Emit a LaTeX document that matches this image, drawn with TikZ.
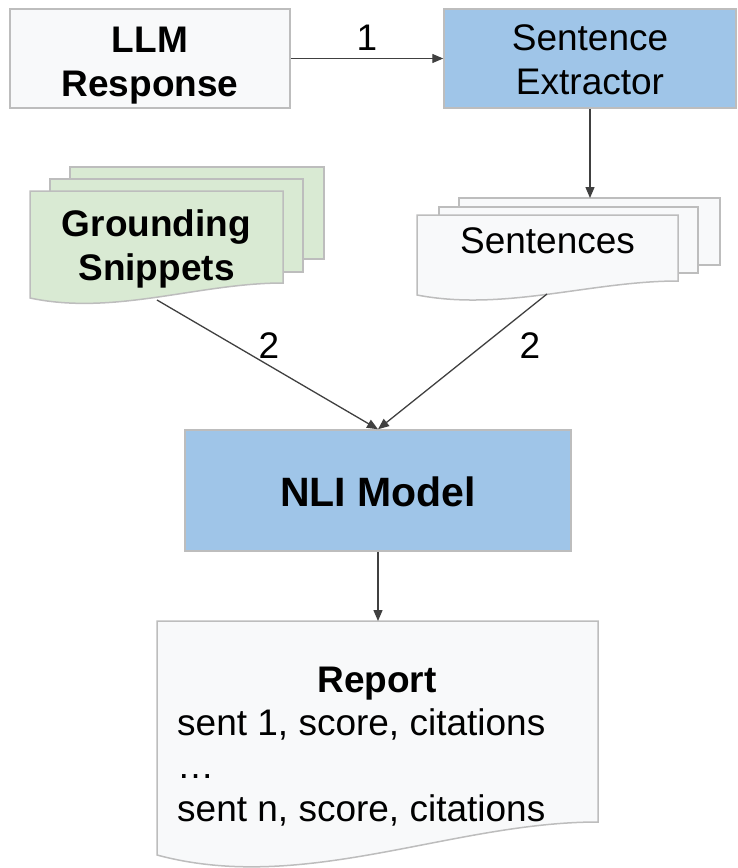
\documentclass[tikz,border=0pt]{standalone}
\usepackage{fontspec}
\setmainfont{Liberation Sans}
\usetikzlibrary{arrows.meta}
\definecolor{boxgray}{HTML}{F8F9FA}
\definecolor{edgegray}{HTML}{BDBDBD}
\definecolor{blueboxfill}{HTML}{9FC5E8}
\definecolor{greenfill}{HTML}{D9EAD3}
\definecolor{arrowgray}{HTML}{404040}
% #1 L, #2 T, #3 R, #4 right bottom, #5 left bottom, #6 fill
\newcommand{\mydocsheet}[6]{%
  \path[sheetedge, fill=#6] (#1,#2) -- (#3,#2) -- (#3,#4)
    .. controls ({#1+2*(#3-#1)/3},#4) and ({#1+(#3-#1)/3},{#5+1.2*(#5-#4)}) .. (#1,#5) -- cycle;}
\newcommand{\myrectsheet}[5]{%
  \path[sheetedge, fill=#5] (#1,#2) rectangle (#3,#4);}
\tikzset{
  blk/.style={draw=edgegray, line width=1.5pt, inner sep=0pt},
  sheetedge/.style={draw=edgegray, line width=1.5pt, line join=miter},
  conn/.style={draw=arrowgray, line width=1.3pt, -{Triangle[length=11pt,width=9pt]}},
  txt/.style={anchor=base, inner sep=0pt, font=\fontsize{37}{44}\selectfont},
  btxt/.style={anchor=base, inner sep=0pt, font=\bfseries\fontsize{37}{44}\selectfont},
}
\begin{document}
\begin{tikzpicture}[x=1pt, y=-1pt]
\useasboundingbox (0,0) rectangle (737,868);

% top boxes
\node[blk, fill=boxgray, minimum width=280pt, minimum height=99pt] (llm) at (150,58.5) {};
\node[blk, fill=blueboxfill, minimum width=292pt, minimum height=99pt] (sx) at (590,58.5) {};
\node[btxt] (llmtext) at (150,52) {\begin{tabular}[t]{@{}c@{}}LLM\\Response\end{tabular}};
\node[txt] (sxtext) at (590,50) {\begin{tabular}[t]{@{}c@{}}Sentence\\Extractor\end{tabular}};

% grounding snippets stack
\myrectsheet{70}{167}{324}{259}{greenfill}
\myrectsheet{50}{179}{303}{272}{greenfill}
\mydocsheet{30}{191}{283}{283}{298}{greenfill}
\node[btxt] (gstext) at (156.5,236) {\begin{tabular}[t]{@{}c@{}}Grounding\\Snippets\end{tabular}};

% sentences stack
\myrectsheet{459}{198}{720}{265}{boxgray}
\myrectsheet{439}{207}{698}{273}{boxgray}
\mydocsheet{417}{215}{678}{281}{295}{boxgray}
\node[txt] (senttext) at (547.5,253) {Sentences};

% NLI model
\node[blk, fill=blueboxfill, minimum width=386pt, minimum height=121pt] (nli) at (378,490.5) {};
\node[anchor=base, inner sep=0pt, font=\bfseries\fontsize{41}{48}\selectfont] (nlitext) at (378,506) {NLI Model};

% report
\mydocsheet{157}{621}{598}{822}{855}{boxgray}
\node[btxt] (rtitle) at (377,692) {Report};
\node[txt, anchor=base west] (rline1) at (177,735) {sent 1, score, citations};
\node[txt, anchor=base west] (rdots) at (177,778) {…};
\node[txt, anchor=base west] (rlinen) at (177,821) {sent n, score, citations};

% connectors
\coordinate (gsbot) at (157,300);
\coordinate (sbot) at (547,294);
\coordinate (stop) at (590,198);
\coordinate (rtop) at (378,621);
\draw[conn] (llm.east) -- (sx.west);
\draw[conn] (sx.south) -- (stop);
\draw[conn] (gsbot) -- (nli.north);
\draw[conn] (sbot) -- (nli.north);
\draw[conn] (nli.south) -- (rtop);

% labels
\node[txt] (lab1) at (367,50) {1};
\node[txt] (lab2a) at (269,358) {2};
\node[txt] (lab2b) at (530,358) {2};
\end{tikzpicture}
\end{document}
